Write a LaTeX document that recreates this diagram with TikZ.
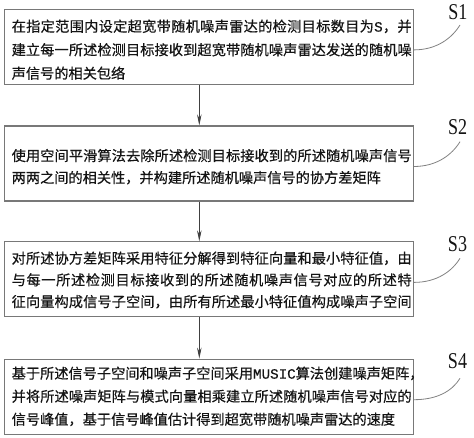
\documentclass[tikz,border=0pt]{standalone}
\usepackage{fontspec}
\usepackage{graphicx}
\newfontfamily\cjk[FakeBold=0.4]{Noto Sans CJK SC}
\newfontfamily\lat{Liberation Serif}
\newfontfamily\mono[FakeBold=0.4]{Liberation Mono}
\usetikzlibrary{arrows.meta}
\definecolor{boxgray}{RGB}{120,120,120}
\definecolor{txtgray}{RGB}{20,20,20}
\definecolor{curvegray}{RGB}{130,130,130}
\makeatletter
\newcommand\jline[1]{\hbox to 400pt{\def\jl@sep{}\@tfor\jl@t:=#1\do{\jl@sep\jl@t\def\jl@sep{\hfil}}}}
\makeatother
\tikzset{
  stepbox/.style={draw=boxgray, line width=1.1pt, fill=white, minimum width=409pt, minimum height=75pt, inner sep=0pt},
  steptext/.style={anchor=west, align=left, inner sep=0pt, text=txtgray},
  slabel/.style={inner sep=0pt, text=txtgray, font=\lat\fontsize{22.6}{24}\selectfont},
  conn/.style={draw=black!75, line width=0.9pt, -{Stealth[length=11pt,width=4.5pt]}},
  curv/.style={draw=curvegray, line width=0.8pt}
}
\begin{document}
\begin{tikzpicture}[x=1pt,y=-1pt]
\useasboundingbox[fill=white] (0,0) rectangle (474,438);
% boxes
\node[stepbox] (b1) at (208.8,46.9) {};
\node[stepbox] (b2) at (208.8,163.5) {};
\node[stepbox] (b3) at (208.8,279.4) {};
\node[stepbox] (b4) at (208.8,396.7) {};
% texts
\node[steptext, font=\cjk\fontsize{14.2}{23.5}\selectfont] (t1) at (11.5,49.7) {%
\jline{在指定范围内设定超宽带随机噪声雷达的检测目标数目为{{\mono S}}，并}\\
\jline{建立每一所述检测目标接收到超宽带随机噪声雷达发送的随机噪}\\
声信号的相关包络};
\node[steptext, font=\cjk\fontsize{14.2}{22}\selectfont] (t2) at (11.5,166.7) {%
\jline{使用空间平滑算法去除所述检测目标接收到的所述随机噪声信号}\\
两两之间的相关性，并构建所述随机噪声信号的协方差矩阵};
\node[steptext, font=\cjk\fontsize{14.2}{21.7}\selectfont] (t3) at (11.5,280) {%
\jline{对所述协方差矩阵采用特征分解得到特征向量和最小特征值，由}\\
\jline{与每一所述检测目标接收到的所述随机噪声信号对应的所述特}\\
\jline{征向量构成信号子空间，由所有所述最小特征值构成噪声子空间}};
\node[steptext, font=\cjk\fontsize{14.2}{23}\selectfont] (t4) at (11.5,396.4) {%
\jline{基于所述信号子空间和噪声子空间采用{{\mono MUSIC}}算法创建噪声矩阵，}\\
\jline{并将所述噪声矩阵与模式向量相乘建立所述随机噪声信号对应的}\\
信号峰值，基于信号峰值估计得到超宽带随机噪声雷达的速度};
% arrows
\draw[conn] ([xshift=-9.5pt]b1.south) -- ([xshift=-9.5pt]b2.north);
\draw[conn] ([xshift=-9.5pt]b2.south) -- ([xshift=-9.5pt]b3.north);
\draw[conn] ([xshift=-9.5pt]b3.south) -- ([xshift=-9.5pt]b4.north);
% labels
\node[slabel] (s1) at (457.8,12.5) {\scalebox{0.8}[1]{S1}};
\node[slabel] (s2) at (457.7,127.5) {\scalebox{0.8}[1]{S2}};
\node[slabel] (s3) at (457.5,244) {\scalebox{0.8}[1]{S3}};
\node[slabel] (s4) at (457.5,360.7) {\scalebox{0.8}[1]{S4}};
\coordinate (c1) at (460,25);
\coordinate (c2) at (460,141.7);
\coordinate (c3) at (460,258.3);
\coordinate (c4) at (460,378.3);
\draw[curv] ([yshift=-3pt]b1.east) .. controls +(23,0) and +(-8,13) .. (c1);
\draw[curv] ([yshift=-3pt]b2.east) .. controls +(23,0) and +(-8,13) .. (c2);
\draw[curv] ([yshift=-3pt]b3.east) .. controls +(23,0) and +(-8,13) .. (c3);
\draw[curv] ([yshift=-3pt]b4.east) .. controls +(23,0) and +(-8,13) .. (c4);
\end{tikzpicture}
\end{document}
